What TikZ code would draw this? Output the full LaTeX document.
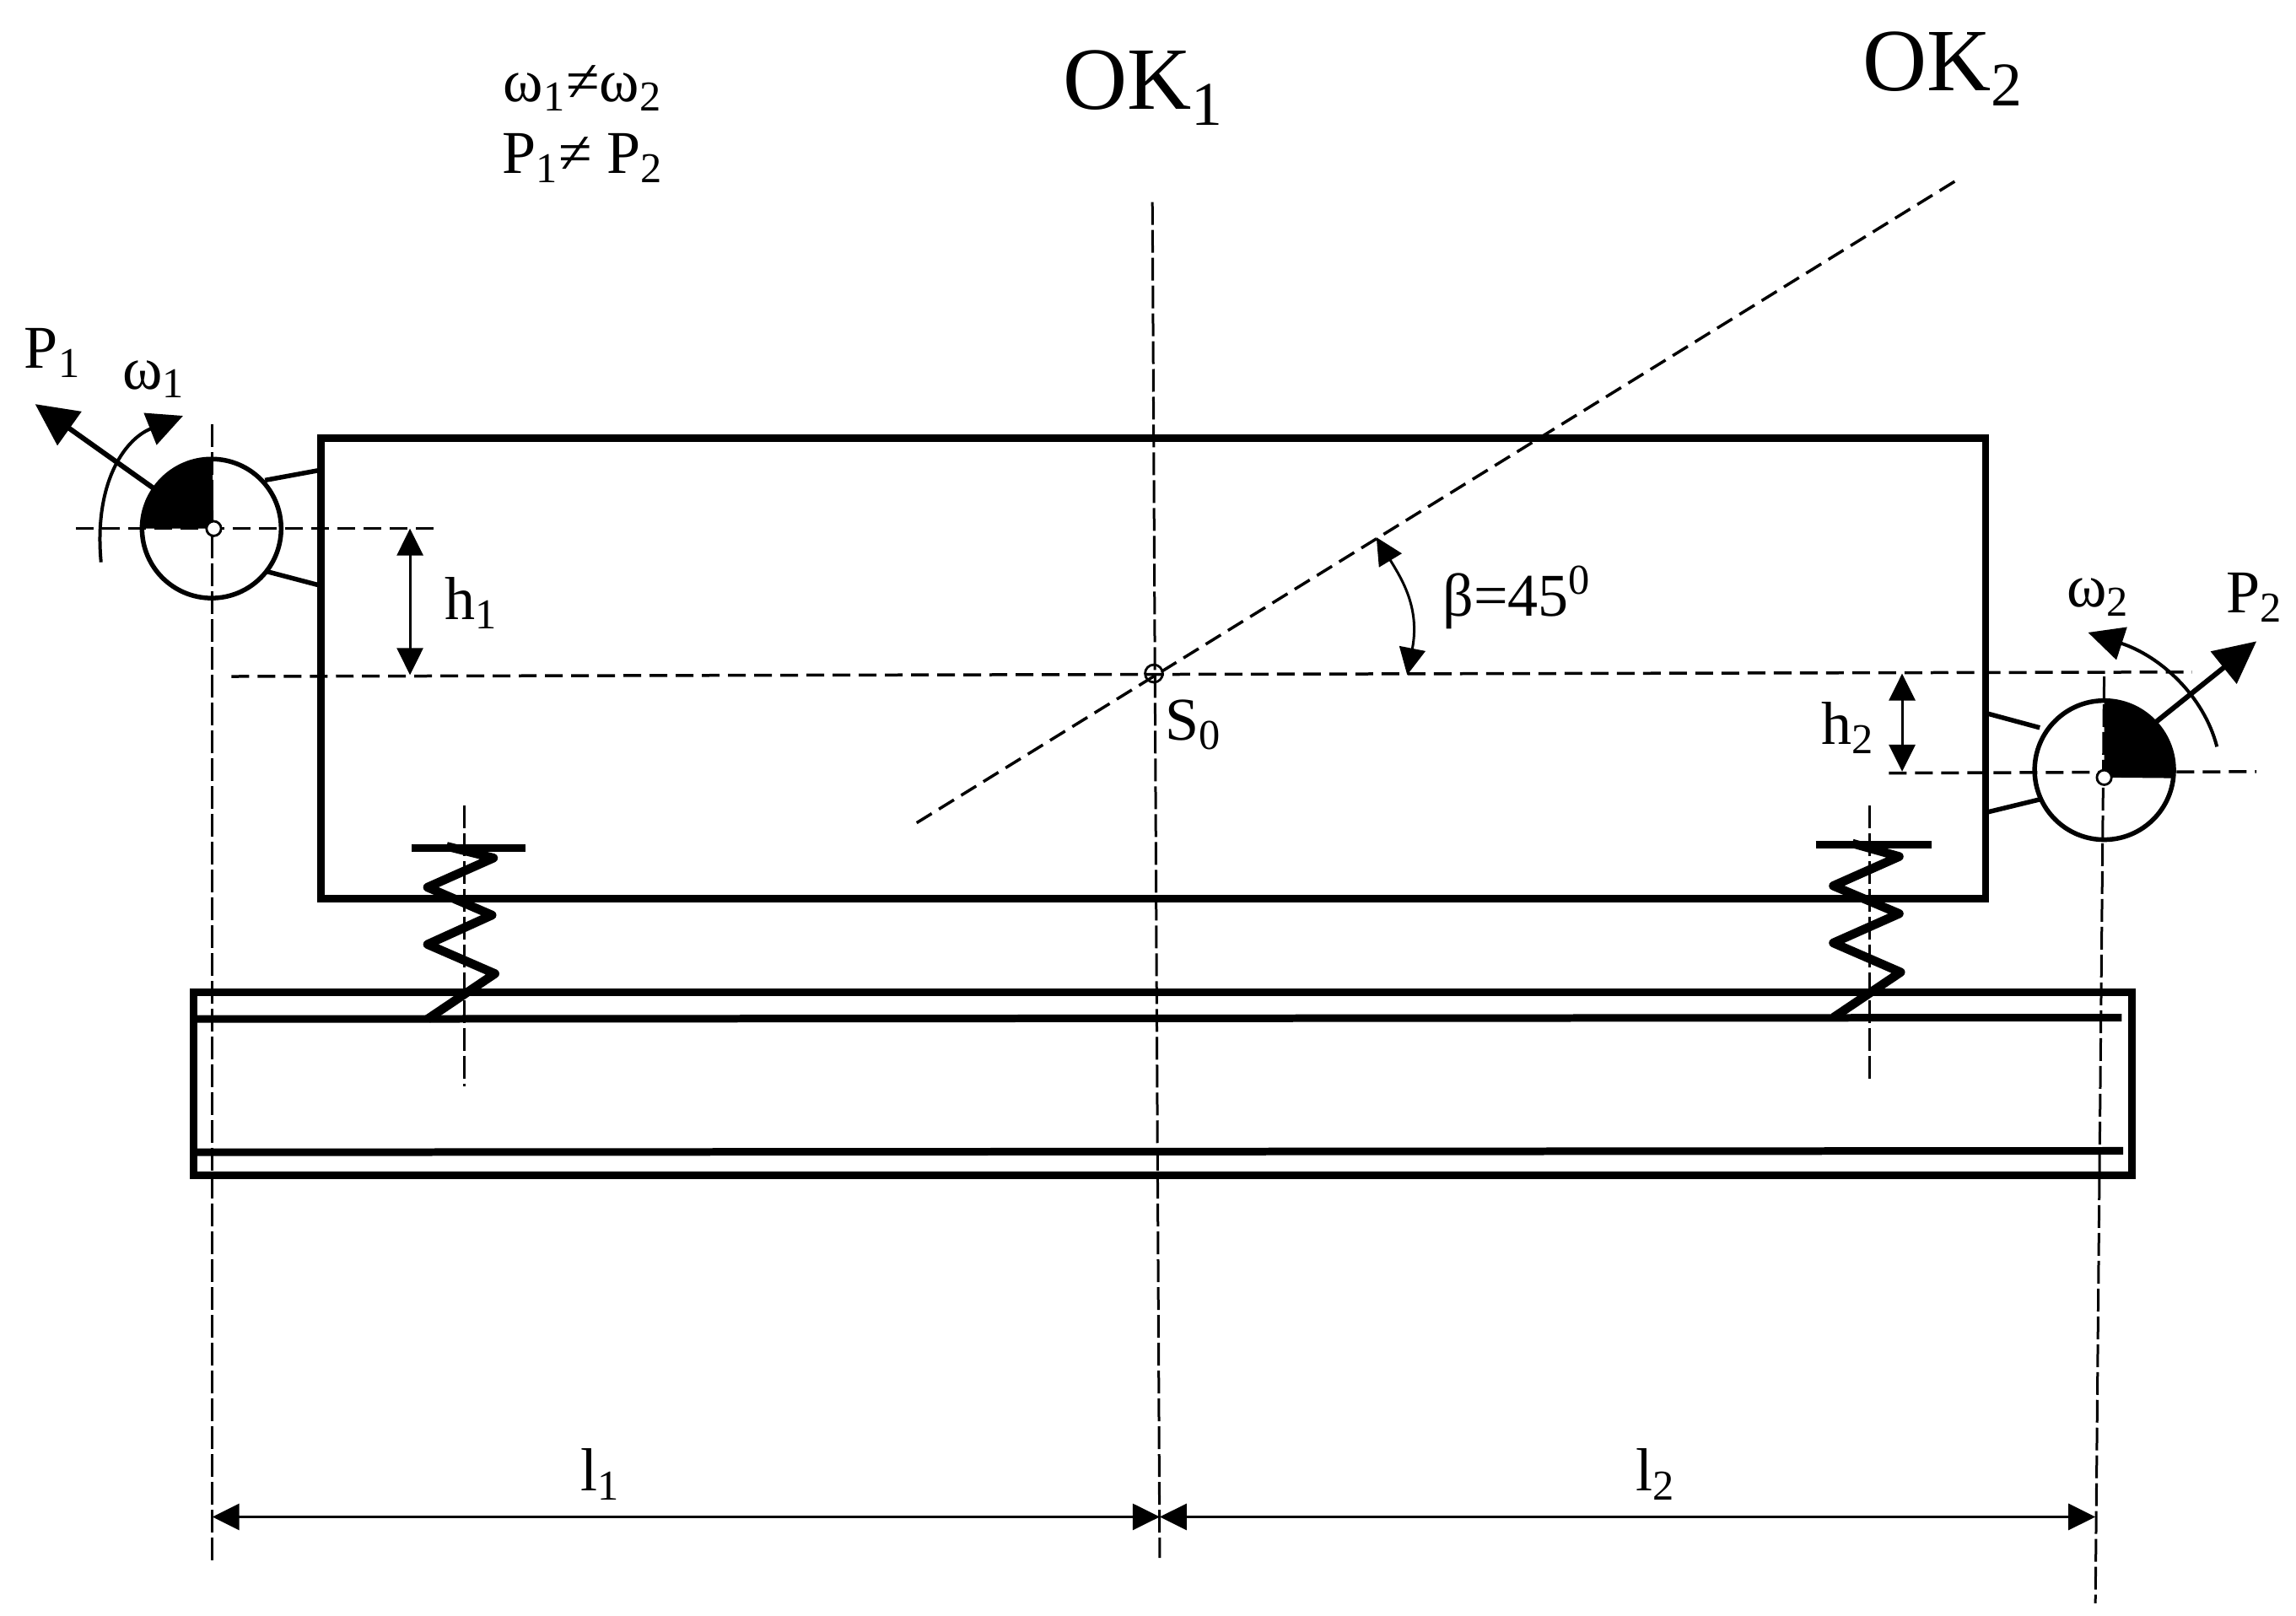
\documentclass[tikz,border=0pt]{standalone}
\usepackage{fontspec}
\setmainfont{Liberation Serif}
\usetikzlibrary{arrows.meta}
\tikzset{
  thickline/.style={line width=0.9mm},
  springline/.style={line width=1.05mm,line join=round},
  armline/.style={line width=0.55mm},
  axisline/.style={line width=0.3mm,dash pattern=on 2.7mm off 0.6mm},
  baseline/.style={line width=0.35mm,dash pattern=on 2.1mm off 1mm},
  dimline/.style={line width=0.3mm,{Triangle[length=3.2mm,width=3.1mm]}-{Triangle[length=3.2mm,width=3.1mm]}},
  forceline/.style={line width=0.6mm,-{Triangle[length=5mm,width=4.8mm]}},
  turnline/.style={line width=0.4mm,-{Triangle[length=4.2mm,width=4mm]}},
  lab/.style={font=\fontsize{20.5}{24}\selectfont,inner sep=0pt},
  biglab/.style={font=\fontsize{30}{34}\selectfont,inner sep=0pt}
}
\begin{document}
\begin{tikzpicture}[x=0.01736cm,y=-0.01736cm]
\useasboundingbox (0,0) rectangle (1568,1103.7);

\coordinate (massL) at (146,361);
\coordinate (massR) at (1437,531);
\coordinate (centre) at (788,460);

% Center lines
\draw[axisline] (145,290) -- (145,1066);
\draw[axisline] (1437,462) -- (1431,1095);
\draw[axisline] (787,138) -- (792,1064);
\draw[baseline] (626,562) -- (1338,122);
\draw[baseline] (158,462) -- (1497,459);
\draw[baseline] (52,361) -- (300,361);
\draw[baseline] (1290,528) -- (1541,527);
\draw[axisline] (317,550) -- (317,742);
\draw[axisline] (1277,550) -- (1277,740);

% Body
\draw[thickline] (219,299) rectangle (1356,614);

% Base
\draw[thickline] (132,678) rectangle (1456,803);
\draw[thickline] (132,696) -- (1449,695);
\draw[thickline] (132,787) -- (1450,786);

% Springs
\draw[thickline] (281,579) -- (359,579);
\draw[springline] (305,578) -- (337,586) -- (292,606) -- (336,625) -- (292,645) -- (338,665) -- (292,696);
\draw[thickline] (1240,577) -- (1319,577);
\draw[springline] (1265,576) -- (1297,585) -- (1252,605) -- (1297,624) -- (1252,644) -- (1298,664) -- (1252,695);

% Left mass
\fill (massL) -- (97,361) arc[start angle=180,end angle=270,radius=48] -- cycle;
\draw[armline] (144.5,361) circle[radius=47.5];
\draw[armline] (181,328) -- (219,321);
\draw[armline] (181,390) -- (219,400);
\draw[thick,fill=white] (massL) circle[radius=5];

% Right mass
\fill (massR) -- (1437,479) arc[start angle=270,end angle=366,radius=47.5] -- cycle;
\draw[armline] (1437,526) circle[radius=47.5];
\draw[armline] (1356,487) -- (1393,497);
\draw[armline] (1356,555) -- (1393,546);
\draw[thick,fill=white] (massR) circle[radius=5];

\draw[thick] (centre) circle[radius=6];

% Forces
\draw[forceline] (107,335) -- (24,276);
\draw[forceline] (1470,495) -- (1541,438);
\draw[turnline] (69,384) .. controls (64,330) and (85,300) .. (125,284);
\draw[turnline] (1514,510) .. controls (1505,475) and (1475,448) .. (1426,432);

% Dimensions
\coordinate (hA1) at (280,361);
\coordinate (hA2) at (280,461);
\coordinate (hB1) at (1299,460);
\coordinate (hB2) at (1299,527);
\coordinate (dimL) at (145,1036);
\coordinate (dimC) at (792,1036);
\coordinate (dimR) at (1431,1036);
\draw[dimline] (hA1) -- (hA2);
\draw[dimline] (hB1) -- (hB2);
\draw[dimline] (dimL) -- (dimC);
\draw[dimline] (dimC) -- (dimR);
\draw[dimline] (940,367) .. controls (957,395) and (970,415) .. (961,461);

% Labels
\node[lab] (neqw) at (398,60) {ω\textsubscript{1}≠ω\textsubscript{2}};
\node[lab] (neqp) at (398,108) {P\textsubscript{1}≠ P\textsubscript{2}};
\node[biglab] (okA) at (781,60) {OK\textsubscript{1}};
\node[biglab] (okB) at (1327,47) {OK\textsubscript{2}};
\node[lab] (pA) at (36,241) {P\textsubscript{1}};
\node[lab] (wA) at (105,259) {ω\textsubscript{1}};
\node[lab] (pB) at (1540,408) {P\textsubscript{2}};
\node[lab] (wB) at (1433,408) {ω\textsubscript{2}};
\node[lab] (hA) at (322,412) {h\textsubscript{1}};
\node[lab] (hB) at (1262,497) {h\textsubscript{2}};
\node[lab] (so) at (815,495) {S\textsubscript{0}};
\node[lab] (beta) at (1036,408) {β=45\textsuperscript{0}};
\node[lab] (lA) at (410,1007) {l\textsubscript{1}};
\node[lab] (lB) at (1131,1007) {l\textsubscript{2}};
\end{tikzpicture}
\end{document}
